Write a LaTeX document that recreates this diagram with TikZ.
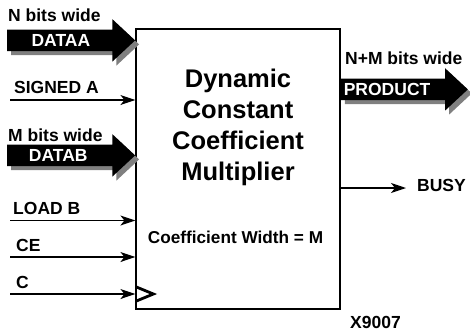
\documentclass[tikz,border=0pt]{standalone}
\usepackage{fontspec}
\setmainfont{Liberation Sans}
\usetikzlibrary{shapes,arrows.meta,positioning,calc}

\begin{document}
\begin{tikzpicture}[
  x=1pt, y=-1pt,
  block/.style={rectangle, draw, line width=1.2pt, minimum width=204pt, minimum height=280pt},
  lbl/.style={font=\fontsize{17.5}{19}\selectfont\bfseries, inner sep=0pt, anchor=base west},
  bus/.style={single arrow, fill=black, inner sep=0pt, text height=21pt, text depth=0pt,
    single arrow head extend=10.5pt, single arrow head indent=0pt, single arrow tip angle=86},
  busshadow/.style={bus, fill=black!50},
  bustext/.style={font=\fontsize{17.5}{19}\selectfont\bfseries, text=white, inner sep=0pt},
  sig/.style={-{Stealth[length=15pt, width=10pt, inset=4pt]}, line width=1.3pt}
]
  \useasboundingbox (0,0) rectangle (470,332);
  % the multiplier block
  \node[block] (mult) at (238,169) {};
  \node[align=center, font=\fontsize{25.5}{31}\selectfont\bfseries] (title) at (238,127)
    {Dynamic\\Constant\\Coefficient\\Multiplier};
  \node[lbl, anchor=base, font=\fontsize{17.2}{19}\selectfont\bfseries] (cwidth) at (235.5,243) {Coefficient Width = M};

  % bus inputs
  \node[busshadow, minimum height=128pt, anchor=tip] (dataash) at ($(mult.north west)+(4,16)$) {};
  \node[bus, minimum height=128pt, anchor=tip] (dataa) at ($(mult.north west)+(0,12)$) {};
  \node[bustext] (dataatxt) at ($(dataa.tail)!0.42!(dataa.tip)$) {DATAA};
  \node[lbl] (nwide) at (8,21) {N bits wide};
  \node[busshadow, minimum height=128pt, anchor=tip] (databsh) at ($(mult.north west)+(4,131)$) {};
  \node[bus, minimum height=128pt, anchor=tip] (datab) at ($(mult.north west)+(0,127)$) {};
  \node[bustext] (databtxt) at ($(datab.tail)!0.40!(datab.tip)$) {DATAB};
  \node[lbl] (mwide) at (8,141) {M bits wide};

  % single inputs
  \coordinate (signedin) at (10,100);
  \coordinate (loadbin) at (10,220.5);
  \coordinate (cein) at (10,257);
  \coordinate (clkin) at (10,294);
  \draw[sig] (signedin) -- (signedin -| mult.west);
  \draw[sig] (loadbin) -- (loadbin -| mult.west);
  \draw[sig] (cein) -- (cein -| mult.west);
  \draw[sig] (clkin) -- (clkin -| mult.west);
  \node[lbl] (signedlbl) at (14,93.5) {SIGNED A};
  \node[lbl] (loadblbl) at (13,214) {LOAD B};
  \node[lbl] (celbl) at (16,251.5) {CE};
  \node[lbl] (clklbl) at (16,288.5) {C};
  % clock mark
  \draw[line width=2.8pt] ($(clkin -| mult.west)+(1,-7)$) -- ++(17,7) -- ++(-17,7);

  % outputs
  \node[busshadow, minimum height=127pt, anchor=tail] (productsh) at ($(mult.north east)+(4,65)$) {};
  \node[bus, minimum height=127pt, anchor=tail] (product) at ($(mult.north east)+(0,61)$) {};
  \node[bustext, anchor=west] (producttxt) at ($(product.tail)+(3,0)$) {PRODUCT};
  \node[lbl] (nmwide) at (345,64) {N+M bits wide};
  \coordinate (busyout) at (406,188);
  \draw[sig] (busyout -| mult.east) -- (busyout);
  \node[lbl] (busylbl) at (417,191) {BUSY};

  \node[lbl] (fignum) at (350,328) {X9007};
\end{tikzpicture}
\end{document}
